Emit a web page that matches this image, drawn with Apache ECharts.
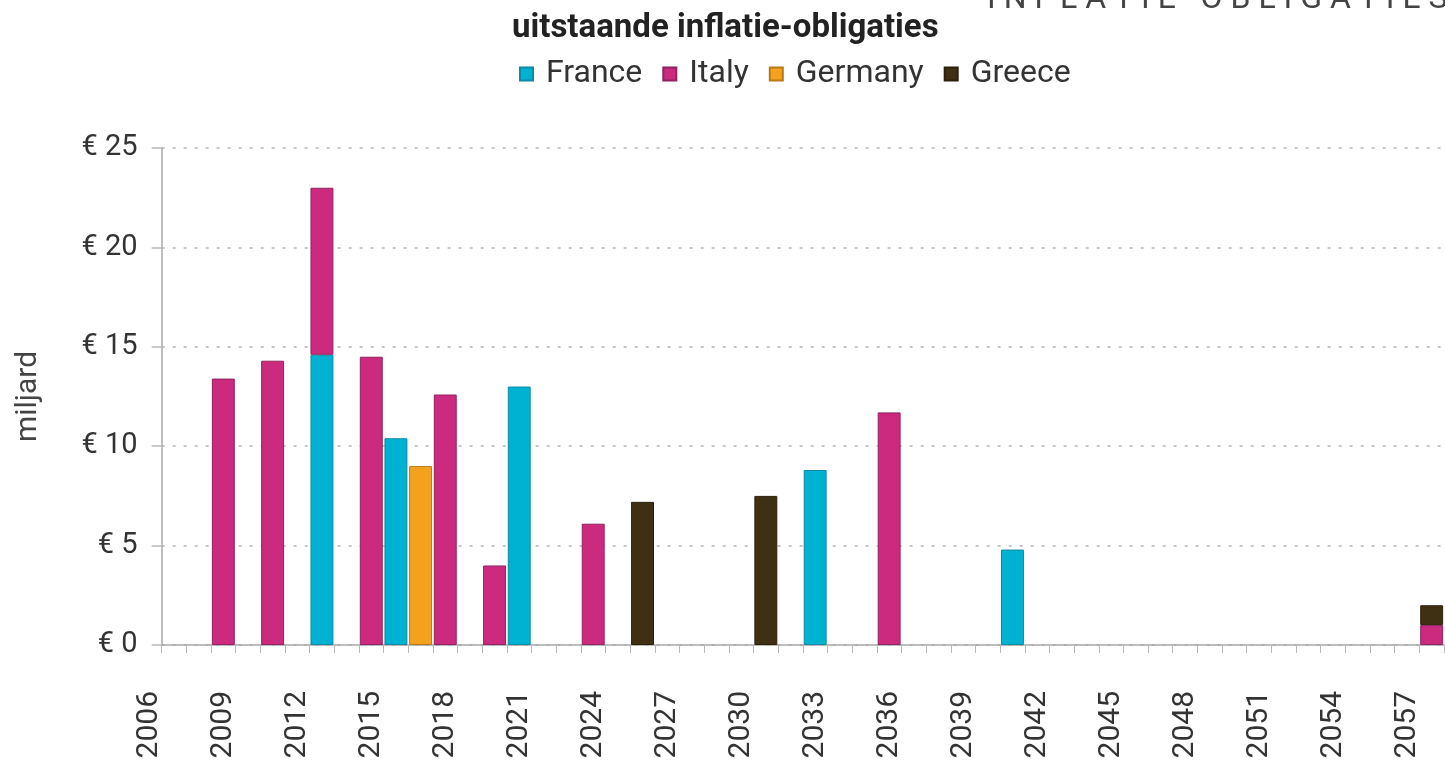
<!DOCTYPE html>
<html>
<head>
<meta charset="utf-8">
<title>uitstaande inflatie-obligaties</title>
<script src="https://cdn.jsdelivr.net/npm/echarts@6/dist/echarts.min.js"></script>
<style>
  html, body { margin: 0; padding: 0; background: #ffffff; }
  #chart { width: 1445px; height: 767px; }
</style>
</head>
<body>
<div id="chart"></div>
<script>
// Maturity years on the category axis (one slot per year)
const firstYear = 2006;
const lastYear = 2058;

// Outstanding inflation-linked bonds per maturity year, in billions of euro
const franceYears   = [2013, 2016, 2021, 2033, 2041];
const franceValues  = [14.6, 10.4, 13.0, 8.8, 4.8];

const italyYears    = [2009, 2011, 2013, 2015, 2018, 2020, 2024, 2036, 2058];
const italyValues   = [13.4, 14.3, 8.4, 14.5, 12.6, 4.0, 6.1, 11.7, 1.0];

const germanyYears  = [2017];
const germanyValues = [9.0];

const greeceYears   = [2026, 2031, 2058];
const greeceValues  = [7.2, 7.5, 1.0];

const seriesNames = ['France', 'Italy', 'Germany', 'Greece'];
const seriesColors = ['#00b2d2', '#cb2a7e', '#f4a21e', '#3f3013'];
const seriesBorders = ['#0a8aa3', '#8f2260', '#b97a16', '#2a200c'];

const yTickValues = [0, 5, 10, 15, 20, 25];

const years = [];
for (let y = firstYear; y <= lastYear; y++) years.push(String(y));

function toSlots(ys, vs) {
  const out = years.map(() => null);
  ys.forEach((y, i) => { out[years.indexOf(String(y))] = vs[i]; });
  return out;
}

const seriesData = [
  toSlots(franceYears, franceValues),
  toSlots(italyYears, italyValues),
  toSlots(germanyYears, germanyValues),
  toSlots(greeceYears, greeceValues)
];

const FONT = 'Roboto, "Liberation Sans", sans-serif';

const chart = echarts.init(document.getElementById('chart'), null, { renderer: 'canvas' });

const option = {
  backgroundColor: '#ffffff',
  animation: false,
  title: [
    {
      text: 'I N F L A T I E - O B L I G A T I E S',
      left: 982,
      top: -21,
      textStyle: { fontFamily: FONT, fontSize: 32, fontWeight: 'normal', color: '#444' }
    },
    {
      text: 'uitstaande inflatie-obligaties',
      left: 507,
      top: 7,
      textStyle: { fontFamily: FONT, fontSize: 33, fontWeight: 'bold', color: '#222' }
    }
  ],
  legend: {
    data: seriesNames,
    left: 514,
    top: 53,
    itemWidth: 13,
    itemHeight: 13,
    itemGap: 20,
    icon: 'rect',
    textStyle: { fontFamily: FONT, fontSize: 32, color: '#333', padding: [0, 0, 0, 8] }
  },
  grid: [
    // bar grid: its first slot (2006) lies left of the value axis
    { left: 137, right: 1, top: 148, bottom: 122, containLabel: false },
    // value-axis grid starting at the 2007 slot
    { left: 161.66, right: 1, top: 148, bottom: 122, containLabel: false }
  ],
  xAxis: [
    {
      type: 'category',
      gridIndex: 0,
      data: years,
      boundaryGap: true,
      axisLine: { show: false },
      axisTick: {
        show: true,
        length: 8,
        interval: function (index) { return index !== 0; },
        lineStyle: { color: '#b8b8b8', width: 1 }
      },
      axisLabel: {
        interval: 2,
        rotate: 90,
        margin: 46,
        fontFamily: FONT,
        fontSize: 30,
        color: '#333'
      },
      splitLine: { show: false }
    },
    {
      type: 'category',
      gridIndex: 1,
      data: [''],
      axisLine: { show: true, lineStyle: { color: '#a8a8a8', width: 1.5 } },
      axisTick: { show: false },
      axisLabel: { show: false },
      splitLine: { show: false }
    }
  ],
  yAxis: [
    {
      type: 'value',
      gridIndex: 0,
      min: 0,
      max: 25,
      interval: 5,
      show: false
    },
    {
      type: 'value',
      gridIndex: 1,
      min: yTickValues[0],
      max: yTickValues[yTickValues.length - 1],
      interval: 5,
      name: 'miljard',
      nameLocation: 'middle',
      nameRotate: 90,
      nameGap: 118,
      nameTextStyle: { fontFamily: FONT, fontSize: 30, color: '#444' },
      axisLine: { show: true, lineStyle: { color: '#a8a8a8', width: 1.5 } },
      axisTick: { show: true, length: 10, lineStyle: { color: '#b8b8b8', width: 1.5 } },
      axisLabel: {
        margin: 24,
        formatter: '€ {value}',
        fontFamily: FONT,
        fontSize: 29,
        color: '#333'
      },
      splitLine: {
        show: true,
        lineStyle: { color: '#c6c6c6', width: 2, type: [3, 8] }
      }
    }
  ],
  series: seriesNames.map((name, i) => ({
    name: name,
    type: 'bar',
    stack: 'total',
    xAxisIndex: 0,
    yAxisIndex: 0,
    barWidth: '93%',
    data: seriesData[i],
    itemStyle: {
      color: seriesColors[i],
      borderColor: seriesBorders[i],
      borderWidth: 1
    }
  }))
};

chart.setOption(option);
</script>
</body>
</html>
